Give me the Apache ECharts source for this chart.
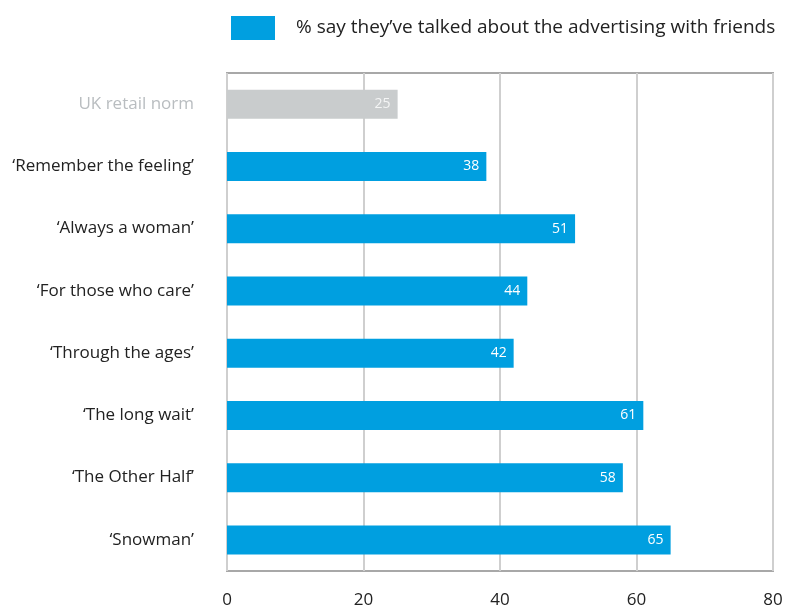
<!DOCTYPE html>
<html>
<head>
<meta charset="utf-8">
<style>
  html, body { margin: 0; padding: 0; background: #fff; }
  #chart { width: 786px; height: 611px; }
</style>
<script src="https://cdn.jsdelivr.net/npm/echarts@6/dist/echarts.min.js"></script>
</head>
<body>
<div id="chart"></div>
<script>
// Campaign names, top to bottom; the first row is the benchmark norm
const categories = [
  'UK retail norm',
  '\u2018Remember the feeling\u2019',
  '\u2018Always a woman\u2019',
  '\u2018For those who care\u2019',
  '\u2018Through the ages\u2019',
  '\u2018The long wait\u2019',
  '\u2018The Other Half\u2019',
  '\u2018Snowman\u2019'
];
// % who say they've talked about the advertising with friends
const talkedValues = [25, 38, 51, 44, 42, 61, 58, 65];
const seriesName = '% say they\u2019ve talked about the advertising with friends';
const xTicks = [0, 20, 40, 60, 80];

const BLUE = '#009fe0';
const NORM_GREY = '#c9cccd';
const FONT = '"Open Sans", Lato, sans-serif';

const chart = echarts.init(document.getElementById('chart'), null, { renderer: 'canvas' });

const barData = talkedValues.map((v, i) => i === 0
  ? { value: v, itemStyle: { color: NORM_GREY }, label: { color: '#f4f5f5' } }
  : { value: v });

chart.setOption({
  backgroundColor: '#ffffff',
  animation: false,
  textStyle: { fontFamily: FONT },
  legend: {
    data: [seriesName],
    left: 226,
    top: 11,
    itemWidth: 44,
    itemHeight: 24,
    icon: 'rect',
    textStyle: { fontSize: 19, color: '#222', fontFamily: FONT, padding: [0, 0, 0, 16] }
  },
  grid: {
    left: 227,
    right: 13,
    top: 73,
    bottom: 40,
    show: true,
    borderColor: '#a8a8a8',
    borderWidth: 2,
    backgroundColor: 'transparent'
  },
  xAxis: {
    type: 'value',
    min: xTicks[0],
    max: xTicks[xTicks.length - 1],
    interval: 20,
    axisLine: { show: false },
    axisTick: { show: false },
    splitLine: { show: true, lineStyle: { color: '#cfcfcf', width: 2 } },
    axisLabel: { fontSize: 17, color: '#222', margin: 21, fontFamily: FONT }
  },
  yAxis: {
    type: 'category',
    data: categories,
    inverse: true,
    axisLine: { show: false },
    axisTick: { show: false },
    axisLabel: {
      margin: 33,
      fontSize: 17,
      color: '#222',
      fontFamily: FONT,
      formatter: (val, idx) => idx === 0 ? '{norm|' + val + '}' : val,
      rich: { norm: { color: '#b9bdc0', fontSize: 17, fontFamily: FONT } }
    }
  },
  series: [{
    name: seriesName,
    type: 'bar',
    data: barData,
    barWidth: 29,
    itemStyle: { color: BLUE },
    label: {
      show: true,
      position: 'insideRight',
      offset: [-2, 0],
      color: '#ffffff',
      fontSize: 14,
      fontFamily: FONT
    }
  }]
});
</script>
</body>
</html>
